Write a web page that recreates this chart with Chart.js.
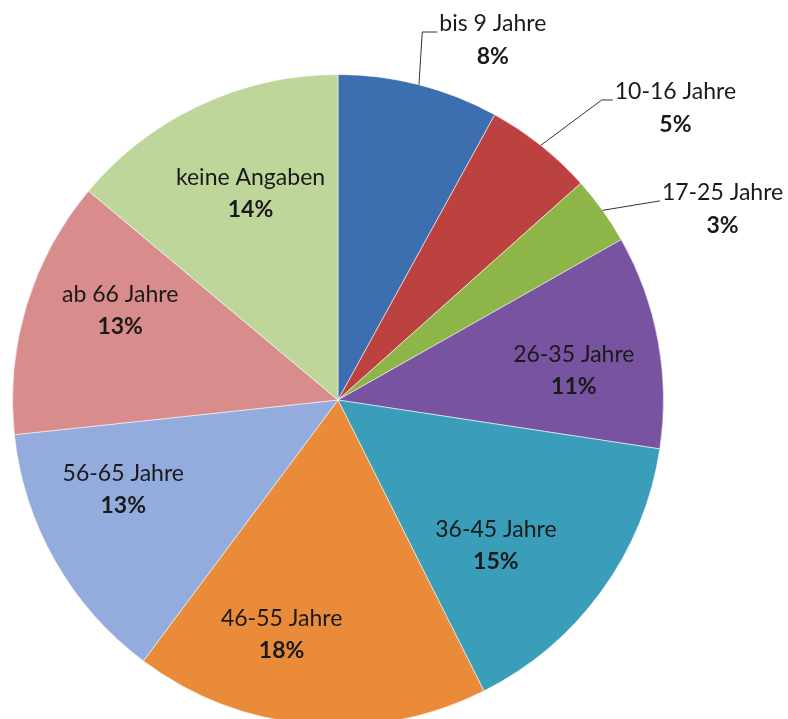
<!DOCTYPE html>
<html>
<head>
<meta charset="utf-8">
<script src="https://cdn.jsdelivr.net/npm/chart.js@4/dist/chart.umd.min.js"></script>
<style>
  html, body { margin: 0; padding: 0; background: #fff; overflow: hidden; }
  #wrap { width: 788px; height: 760px; position: relative; }
</style>
</head>
<body>
<div id="wrap"><canvas id="ageChart"></canvas></div>
<script>
const ageGroups = ['bis 9 Jahre', '10-16 Jahre', '17-25 Jahre', '26-35 Jahre', '36-45 Jahre',
  '46-55 Jahre', '56-65 Jahre', 'ab 66 Jahre', 'keine Angaben'];
const shares = [8.0, 5.4, 3.4, 10.6, 15.2, 17.6, 13.1, 12.8, 13.9];
const sliceColors = ['#3D6FB0', '#BC4240', '#8DB547', '#7753A0', '#3A9DBA',
  '#EA8B3A', '#93ACDD', '#D98C8C', '#BFD69B'];

// small slices get a leader line: [angle shift deg, line length, tick length]
const callouts = { 0: [-1.5, 52, 15], 1: [2.8, 74, 11], 2: [3.9, 53, 0] };
// label placement inside the other slices: [angle shift deg, radius factor]
const insidePlace = { 3: [3.4, 0.73], 4: [6.7, 0.66], 5: [8.5, 0.74],
  6: [7, 0.715], 7: [5.5, 0.724], 8: [2.1, 0.69] };

const labelFont = '23px Lato';
const pctFont = 'bold 23px Lato';

const sliceLabels = {
  id: 'sliceLabels',
  afterDatasetsDraw(chart) {
    const c = chart.ctx;
    const meta = chart.getDatasetMeta(0);
    const total = shares.reduce((a, b) => a + b, 0);
    const rad = Math.PI / 180;
    c.save();
    c.fillStyle = '#1a1a1a';
    c.textBaseline = 'middle';
    meta.data.forEach((arc, i) => {
      const p = arc.getProps(['x', 'y', 'startAngle', 'endAngle', 'outerRadius'], true);
      const mid = (p.startAngle + p.endAngle) / 2;
      const pct = Math.round(shares[i] / total * 100) + '%';
      if (callouts[i]) {
        const [shift, len, tick] = callouts[i];
        const a = mid + shift * rad;
        const sx = p.x + Math.cos(mid) * p.outerRadius;
        const sy = p.y + Math.sin(mid) * p.outerRadius;
        const ex = p.x + Math.cos(a) * (p.outerRadius + len);
        const ey = p.y + Math.sin(a) * (p.outerRadius + len);
        c.strokeStyle = '#333';
        c.lineWidth = 1;
        c.beginPath();
        c.moveTo(sx, sy);
        c.lineTo(ex, ey);
        c.lineTo(ex + tick, ey);
        c.stroke();
        c.font = labelFont;
        const w = c.measureText(ageGroups[i]).width;
        const tx = ex + tick + 2;
        c.textAlign = 'left';
        c.fillText(ageGroups[i], tx, ey - 8);
        c.font = pctFont;
        c.textAlign = 'center';
        c.fillText(pct, tx + w / 2, ey + 25);
      } else {
        const [shift, f] = insidePlace[i] || [0, 0.7];
        const a = mid + shift * rad;
        const r = p.outerRadius * f;
        const lx = p.x + Math.cos(a) * r;
        const ly = p.y + Math.sin(a) * r;
        c.textAlign = 'center';
        c.font = labelFont;
        c.fillText(ageGroups[i], lx, ly - 16);
        c.font = pctFont;
        c.fillText(pct, lx, ly + 16);
      }
    });
    c.restore();
  }
};

const ctx = document.getElementById('ageChart').getContext('2d');
const chart = new Chart(ctx, {
  type: 'pie',
  data: {
    labels: ageGroups,
    datasets: [{
      data: shares,
      backgroundColor: sliceColors,
      borderColor: 'rgba(255,255,255,0.55)',
      borderWidth: 1,
      hoverOffset: 0,
      offset: 0
    }]
  },
  options: {
    responsive: true,
    maintainAspectRatio: false,
    animation: false,
    events: [],
    layout: { padding: { left: 12, top: 74, right: 124, bottom: 34 } },
    plugins: {
      legend: { display: false },
      tooltip: { enabled: false }
    }
  },
  plugins: [sliceLabels]
});
</script>
</body>
</html>
